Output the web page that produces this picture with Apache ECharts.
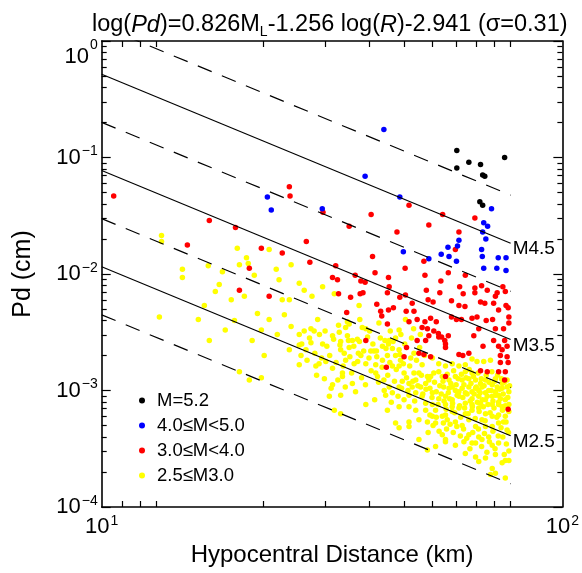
<!DOCTYPE html>
<html><head><meta charset="utf-8">
<script src="https://cdn.jsdelivr.net/npm/echarts@6/dist/echarts.min.js"></script>
<style>html,body{margin:0;padding:0;background:#fff}#c{width:582px;height:573px}</style>
</head><body><div id="c"></div>
<script>
// Legend categories and colours
const categories = ['M=5.2', '4.0≤M<5.0', '3.0≤M<4.0', '2.5≤M3.0'];
const catColors = ['#000000', '#0000ff', '#ff0000', '#ffff00'];

// Points as [log10 R (km), log10 Pd (cm)]
const blackPts = [[1.848,-0.94],[1.882,-1.04],[1.848,-1.09],[1.915,-1.06],[1.921,-1.15],[1.927,-1.16],[1.983,-1.00],[1.913,-1.38],[1.921,-1.41]];

const bluePts = [[1.642,-0.76],[1.589,-1.16],[1.313,-1.34],[1.324,-1.45],[1.468,-1.44],[1.687,-1.34],
[1.946,-1.44],[1.924,-1.56],[1.935,-1.59],[1.921,-1.64],[1.930,-1.70],[1.854,-1.71],
[1.697,-1.81],[1.769,-1.87],[1.804,-1.83],[1.823,-1.77],[1.826,-1.85],[1.847,-1.89],[1.850,-1.76],
[1.918,-1.79],[1.920,-1.85],[1.924,-1.95],[1.965,-1.86],[1.987,-1.86],[1.961,-1.95],[1.987,-1.97]];

const redPts = [[0.879,-1.33],[1.087,-1.75],[1.149,-1.54],[1.223,-1.60],[1.375,-1.25],[1.377,-1.33],
[1.296,-1.78],[1.355,-1.82],[1.423,-1.72],[1.318,-2.19],[1.470,-1.47],[1.544,-1.59],[1.606,-1.49],
[1.679,-1.64],[1.713,-1.41],[1.769,-1.58],[1.808,-1.49],[1.854,-1.64],[1.899,-1.52],[1.262,-1.95],[1.234,-2.14],
[1.610,-1.85],[1.433,-1.90],[1.506,-1.93],[1.702,-1.95],[1.755,-1.89],[1.844,-1.79],[1.617,-1.99],
[1.497,-2.03],[1.511,-2.05],[1.561,-2.01],[1.577,-2.06],[1.589,-2.07],[1.655,-2.03],[1.758,-2.01],
[1.824,-1.99],[1.872,-2.01],[1.803,-2.06],[1.657,-2.11],[1.583,-2.16],[1.575,-2.17],[1.514,-2.17],
[1.548,-2.20],[1.652,-2.16],[1.687,-2.20],[1.703,-2.18],[1.762,-2.14],[1.800,-2.16],[1.856,-2.11],
[1.866,-2.17],[1.899,-2.12],[1.918,-2.10],[1.934,-2.14],[1.899,-2.16],[1.978,-2.11],[1.962,-2.16],
[1.985,-2.15],[1.767,-2.22],[1.781,-2.24],[1.722,-2.25],[1.833,-2.23],[1.854,-2.27],[1.871,-2.28],
[1.915,-2.24],[1.927,-2.25],[1.952,-2.25],[1.957,-2.19],[1.987,-2.27],[1.993,-2.29],[1.622,-2.26],
[1.537,-2.33],[1.633,-2.32],[1.636,-2.36],[1.655,-2.31],[1.669,-2.29],[1.705,-2.32],[1.727,-2.32],
[1.652,-2.43],[1.713,-2.41],[1.736,-2.39],[1.758,-2.41],[1.774,-2.38],[1.790,-2.41],[1.765,-2.47],
[1.750,-2.46],[1.783,-2.49],[1.796,-2.51],[1.805,-2.54],[1.833,-2.37],[1.847,-2.39],[1.861,-2.39],
[1.891,-2.38],[1.905,-2.37],[1.910,-2.47],[1.931,-2.40],[1.949,-2.39],[1.966,-2.31],[1.995,-2.37],
[1.995,-2.42],[1.957,-2.47],[1.980,-2.47],[1.591,-2.57],[1.736,-2.57],[1.760,-2.57],[1.769,-2.53],
[1.797,-2.54],[1.824,-2.53],[1.814,-2.57],[1.896,-2.53],[1.922,-2.62],[1.952,-2.57],[1.966,-2.62],
[1.983,-2.57],[1.990,-2.62],[1.976,-2.65],[1.706,-2.63],[1.741,-2.68],[1.699,-2.71],[1.755,-2.69],
[1.774,-2.71],[1.816,-2.60],[1.816,-2.63],[1.854,-2.69],[1.865,-2.70],[1.882,-2.68],[1.971,-2.70],
[1.990,-2.71],[1.993,-2.76],[1.971,-2.76],[1.966,-2.84],[1.985,-2.84],[1.983,-2.91],[1.915,-2.83],
[1.934,-2.84],[1.649,-2.80],[1.816,-2.88],[1.993,-3.16]];

const yellowPts = [[1.014,-1.67],[1.014,-1.72],[1.073,-1.96],[1.073,-2.03],[1.008,-2.37],[1.118,-2.39],
[1.228,-1.78],[1.254,-1.86],[1.259,-1.91],[1.186,-1.98],[1.177,-2.09],[1.276,-2.01],[1.338,-1.96],
[1.211,-2.22],[1.248,-2.19],[1.285,-2.34],[1.220,-2.40],[1.296,-2.48],[1.361,-2.35],[1.341,-2.52],
[1.375,-2.22],[1.304,-2.70],[1.375,-2.65],[1.234,-2.84],[1.296,-2.89],[1.149,-2.57],[1.318,-1.79],
[1.346,-2.05],[1.380,-1.92],[1.146,-1.93],[1.234,-1.92],[1.166,-2.15],[1.135,-2.27],[1.194,-2.48],
[1.270,-2.57],[1.380,-2.45],[1.318,-2.39],[1.355,-2.22],[1.403,-2.61],[1.262,-2.91],
[1.417,-2.14],[1.469,-2.11],[1.439,-2.19],[1.502,-2.17],[1.572,-2.27],[1.403,-2.08],
[1.455,-2.39],[1.403,-2.52],[1.417,-2.49],[1.436,-2.47],[1.445,-2.49],[1.476,-2.49],[1.497,-2.53],
[1.516,-2.50],[1.514,-2.44],[1.534,-2.46],[1.539,-2.41],[1.544,-2.43],[1.574,-2.39],[1.581,-2.46],
[1.591,-2.47],[1.602,-2.49],[1.628,-2.42],[1.645,-2.57],[1.657,-2.57],[1.675,-2.55],[1.520,-2.58],
[1.542,-2.57],[1.553,-2.57],[1.567,-2.56],[1.469,-2.60],[1.436,-2.59],[1.408,-2.70],[1.422,-2.65],
[1.703,-2.39],[1.685,-2.48],
[1.520,-2.65],[1.530,-2.68],[1.544,-2.63],[1.570,-2.68],[1.605,-2.66],[1.614,-2.66],[1.621,-2.66],
[1.638,-2.62],[1.655,-2.60],[1.666,-2.64],[1.685,-2.65],[1.675,-2.70],[1.689,-2.74],[1.652,-2.70],
[1.638,-2.74],[1.619,-2.78],[1.591,-2.77],[1.577,-2.70],[1.558,-2.77],[1.534,-2.74],[1.525,-2.85],
[1.497,-2.81],[1.459,-2.77],[1.450,-2.79],[1.478,-2.75],[1.403,-2.78],[1.718,-2.72],[1.727,-2.68],
[1.685,-2.79],[1.666,-2.79],[1.699,-2.85],[1.727,-2.85],[1.741,-2.85],[1.750,-2.78],[1.779,-2.72],
[1.797,-2.77],[1.816,-2.79],[1.835,-2.77],[1.854,-2.79],[1.872,-2.78],[1.891,-2.73],[1.905,-2.75],
[1.924,-2.75],[1.943,-2.74],[1.872,-2.84],[1.891,-2.85],[1.929,-2.91],[1.957,-2.90],[1.976,-2.94],
[1.990,-2.97],
[1.553,-2.94],[1.525,-2.88],[1.497,-2.95],[1.488,-3.05],[1.520,-3.04],[1.591,-3.12],[1.619,-2.85],
[1.624,-2.88],[1.642,-2.91],[1.657,-2.97],[1.647,-3.04],[1.666,-3.02],[1.685,-2.97],[1.694,-2.92],
[1.713,-2.94],[1.722,-2.97],[1.732,-2.91],[1.746,-2.97],[1.760,-2.94],[1.774,-2.88],[1.783,-2.85],
[1.797,-2.84],[1.811,-2.97],[1.826,-2.98],[1.844,-3.00],[1.863,-2.98],[1.882,-2.97],[1.901,-2.98],
[1.919,-2.97],[1.938,-3.00],[1.957,-3.01],[1.976,-2.98],[1.995,-3.01],[1.779,-3.02],[1.797,-3.07],
[1.816,-3.05],[1.835,-3.08],[1.854,-3.05],[1.872,-3.11],[1.891,-3.07],[1.910,-3.05],[1.929,-3.08],
[1.948,-3.05],[1.966,-3.10],[1.985,-3.08],[1.713,-3.04],[1.732,-3.02],[1.750,-3.05],[1.760,-3.11],
[1.779,-3.12],[1.699,-3.08],[1.685,-3.14],
[1.769,-2.91],[1.807,-2.88],[1.826,-2.91],[1.844,-2.88],[1.863,-2.91],[1.882,-2.90],[1.901,-2.91],
[1.915,-2.94],[1.948,-2.95],[1.962,-2.97],[1.835,-2.97],[1.854,-3.01],[1.872,-3.02],[1.891,-3.01],
[1.910,-3.00],[1.929,-3.02],[1.966,-3.04],[1.816,-3.12],[1.835,-3.14],[1.891,-3.12],[1.915,-3.11],
[1.948,-3.12],[1.976,-3.14],
[1.652,-3.17],[1.713,-3.14],[1.732,-3.17],[1.788,-3.17],[1.816,-3.21],[1.835,-3.18],[1.854,-3.15],
[1.872,-3.20],[1.891,-3.17],[1.910,-3.15],[1.929,-3.20],[1.948,-3.22],[1.966,-3.21],[1.985,-3.22],
[1.995,-3.12],[1.675,-3.28],[1.685,-3.32],[1.713,-3.27],[1.713,-3.31],[1.741,-3.25],[1.765,-3.27],
[1.779,-3.22],[1.788,-3.28],[1.821,-3.25],[1.844,-3.27],[1.863,-3.30],[1.882,-3.25],[1.901,-3.31],
[1.929,-3.31],[1.948,-3.31],[1.966,-3.28],[1.990,-3.34],[1.978,-3.40],[1.938,-3.40],[1.910,-3.40],
[1.882,-3.38],[1.807,-3.38],[1.816,-3.42],[1.760,-3.17],[1.807,-3.22],[1.919,-3.25],[1.980,-3.27],
[1.741,-3.42],[1.765,-3.51],[1.788,-3.48],[1.816,-3.44],[1.844,-3.47],[1.868,-3.44],[1.891,-3.45],
[1.919,-3.42],[1.948,-3.47],[1.966,-3.45],[1.995,-3.52],[1.872,-3.54],[1.901,-3.57],[1.929,-3.58],
[1.957,-3.55],[1.985,-3.60],[1.910,-3.61],[1.948,-3.67],[1.976,-3.62],[1.995,-3.60],[1.957,-3.71],
[1.985,-3.75],[1.943,-3.72],[1.502,-3.17],[1.520,-3.20],
[1.765,-2.88],[1.772,-2.98],[1.778,-3.06],[1.785,-2.93],[1.790,-3.01],[1.795,-3.12],[1.800,-2.96],
[1.804,-3.03],[1.809,-2.92],[1.812,-3.09],[1.818,-3.16],[1.821,-2.86],[1.824,-3.02],[1.828,-3.07],
[1.831,-2.94],[1.836,-3.11],[1.839,-2.83],[1.842,-3.19],[1.846,-2.95],[1.849,-3.04],[1.852,-2.90],
[1.856,-3.13],[1.859,-3.23],[1.861,-2.86],[1.865,-3.06],[1.868,-2.95],[1.870,-3.15],[1.874,-2.89],
[1.877,-3.03],[1.880,-3.20],[1.883,-2.82],[1.886,-3.09],[1.888,-2.94],[1.892,-3.14],[1.895,-2.88],
[1.897,-3.03],[1.900,-3.24],[1.903,-2.97],[1.906,-3.10],[1.908,-2.85],[1.911,-3.18],[1.914,-3.02],
[1.917,-2.90],[1.920,-3.08],[1.923,-3.14],[1.925,-2.96],[1.928,-3.26],[1.931,-2.87],[1.934,-3.05],
[1.936,-3.12],[1.939,-2.93],[1.942,-3.19],[1.945,-3.00],[1.947,-2.84],[1.950,-3.09],[1.953,-3.15],
[1.955,-2.92],[1.958,-3.04],[1.961,-3.23],[1.963,-2.87],[1.966,-3.12],[1.969,-2.99],[1.971,-3.07],
[1.974,-2.90],[1.977,-3.17],[1.979,-3.03],[1.982,-2.93],[1.985,-3.13],[1.987,-3.27],[1.990,-2.91],
[1.992,-3.06],[1.995,-3.18],[1.997,-2.96],[1.994,-3.36],[1.988,-3.46],[1.982,-3.55],[1.973,-3.32],
[1.965,-3.39],[1.956,-3.50],[1.950,-3.35],[1.940,-3.44],[1.933,-3.53],[1.926,-3.37],[1.918,-3.48],
[1.909,-3.33],[1.901,-3.45],[1.893,-3.36],[1.885,-3.50],[1.876,-3.41],[1.867,-3.33],[1.858,-3.39],
[1.848,-3.31],[1.838,-3.36],[1.829,-3.29],[1.819,-3.33],[1.810,-3.28],[1.798,-3.35],[1.790,-3.23],
[1.781,-3.30],[1.772,-3.21],[1.767,-3.36],
[1.410,-2.60],[1.425,-2.74],[1.432,-2.55],[1.447,-2.68],[1.452,-2.87],[1.460,-2.52],[1.466,-2.72],
[1.474,-2.90],[1.481,-2.62],[1.489,-2.70],[1.493,-2.98],[1.500,-2.56],[1.507,-2.76],[1.512,-2.91],
[1.518,-2.61],[1.527,-2.79],[1.533,-2.97],[1.539,-2.53],[1.546,-2.71],[1.551,-2.85],[1.557,-2.62],
[1.562,-3.01],[1.568,-2.75],[1.573,-2.58],[1.579,-2.89],[1.585,-2.66],[1.590,-2.95],[1.596,-2.54],
[1.600,-2.72],[1.606,-2.83],[1.611,-2.60],[1.616,-3.08],[1.622,-2.71],[1.627,-2.93],[1.632,-2.55],
[1.637,-2.80],[1.643,-3.00],[1.648,-2.64],[1.653,-2.87],[1.659,-2.76],[1.663,-3.10],[1.668,-2.58],
[1.672,-2.92],[1.677,-2.82],[1.682,-3.05],[1.687,-2.69],[1.692,-2.98],[1.697,-2.77],[1.701,-2.60],
[1.706,-2.89],[1.710,-3.00],[1.715,-2.79],[1.720,-2.55],[1.724,-2.92],[1.729,-3.09],[1.734,-2.74],
[1.738,-2.96],[1.743,-2.63],[1.748,-2.87],[1.752,-3.03],[1.757,-2.70],[1.761,-2.99],[1.745,-2.52],
[1.726,-2.47],[1.690,-2.52],[1.660,-2.49]];

// Regression from the title: log(Pd) = a*M + b*log(R) + c
const coefA = 0.826, coefB = -1.256, coefC = -2.941;
const solidMags = [4.5, 3.5, 2.5];
const dashedMags = [5.0, 4.0, 3.0, 2.0];
const lineR = [7, 100];

// Axis extents and tick labels
const xMin = 7, xMax = 140, yMin = 1e-4, yMax = 1;
const xTickValues = [8, 9, 10, 20, 30, 40, 50, 60, 70, 80, 90, 100];
const xLabelValues = [7, 140];
const xLabelExps = ['1', '2'];
const yLabelValues = [1e-4, 1e-3, 1e-2, 1e-1, 1];
const yLabelExps = ['−4', '−3', '−2', '−1', '0'];
const minorMantissas = [2, 3, 4, 5, 6, 7, 8, 9];
const minorDecades = [-4, -3, -2, -1];

const FONT = 'Liberation Sans, Arial, Helvetica, sans-serif';
const yMinor = [];
minorDecades.forEach(e => minorMantissas.forEach(m => yMinor.push(m * Math.pow(10, e))));

const toXY = pts => pts.map(p => [Math.pow(10, p[0]), Math.pow(10, p[1])]);
const pd = (M, R) => Math.pow(10, coefA * M + coefB * Math.log10(R) + coefC);

const richTick = {
  b: { fontSize: 22, fontFamily: FONT, color: '#000' },
  s: { fontSize: 14, fontFamily: FONT, color: '#000', verticalAlign: 'top', padding: [0, 0, 12, 1] },
  bt: { fontSize: 22, fontFamily: FONT, color: '#000', padding: [32, 0, 0, 0] },
  st: { fontSize: 14, fontFamily: FONT, color: '#000', padding: [20, 0, 12, 1] }
};

const lineSeries = [];
solidMags.forEach(M => lineSeries.push({
  type: 'line', xAxisIndex: 0, yAxisIndex: 0, z: 5, symbol: 'none', silent: true,
  data: lineR.map(R => [R, pd(M, R)]),
  lineStyle: { color: '#000', width: 1.2 },
  endLabel: { show: true, formatter: 'M' + M.toFixed(1), color: '#000', fontSize: 19, fontFamily: FONT, distance: 2, offset: [0, 6] }
}));
dashedMags.forEach(M => lineSeries.push({
  type: 'line', xAxisIndex: 0, yAxisIndex: 0, z: 5, symbol: 'none', silent: true,
  data: lineR.map(R => [R, pd(M, R)]),
  lineStyle: { color: '#000', width: 1.2, type: [15, 11] }
}));

const ptSets = [blackPts, bluePts, redPts, yellowPts];
const drawOrder = [3, 2, 1, 0];
const scatterSeries = drawOrder.map((i, k) => ({
  name: categories[i], type: 'scatter', xAxisIndex: 0, yAxisIndex: 0, z: 2 + k * 0.1,
  symbol: 'circle', symbolSize: 5.5, data: toXY(ptSets[i]),
  itemStyle: { color: catColors[i], opacity: 1 }
}));

const baseX = { type: 'log', logBase: 10, min: xMin, max: xMax, splitLine: { show: false } };
const baseY = { type: 'log', logBase: 10, min: yMin, max: yMax, splitLine: { show: false } };
const axLine = { show: true, onZero: false, lineStyle: { color: '#000', width: 1.6 } };

const chart = echarts.init(document.getElementById('c'), null, { renderer: 'canvas' });
chart.setOption({
  animation: false,
  backgroundColor: '#fff',
  title: {
    left: 87, top: 6,
    text: '{n|log(}{i|Pd}{n|)=0.826M}{sub|L}{n|-1.256 log(}{i|R}{n|)-2.941 (σ=0.31)}',
    textStyle: {
      fontWeight: 'normal',
      rich: {
        n: { fontSize: 23.5, fontFamily: FONT, color: '#000', fontWeight: 'normal', lineHeight: 28 },
        i: { fontSize: 23.5, fontFamily: FONT, color: '#000', fontWeight: 'normal', fontStyle: 'italic', lineHeight: 28 },
        sub: { fontSize: 14, fontFamily: FONT, color: '#000', fontWeight: 'normal', verticalAlign: 'bottom', lineHeight: 14 }
      }
    }
  },
  legend: {
    orient: 'vertical', left: 134, top: 386, itemGap: 6,
    itemWidth: 6, itemHeight: 6, icon: 'circle',
    data: categories,
    textStyle: { fontSize: 18.5, fontFamily: FONT, color: '#000', padding: [0, 0, 0, 7] }
  },
  grid: { left: 101.7, right: 18.7, top: 41, bottom: 66, containLabel: false },
  xAxis: [
    Object.assign({}, baseX, {
      position: 'bottom',
      name: 'Hypocentral Distance (km)', nameLocation: 'middle', nameGap: 34,
      nameTextStyle: { fontSize: 24, fontFamily: FONT, color: '#000' },
      axisLine: axLine,
      axisTick: { show: true, inside: true, length: 6, customValues: xTickValues, lineStyle: { color: '#000', width: 1.2 } },
      axisLabel: { show: true, customValues: xLabelValues, margin: 7,
        formatter: v => '{b|10}{s|' + xLabelExps[xLabelValues.indexOf(v)] + '}', rich: richTick,
        showMinLabel: true, showMaxLabel: true }
    }),
    Object.assign({}, baseX, {
      position: 'top', axisLine: axLine,
      axisTick: { show: true, inside: true, length: 6, customValues: xTickValues, lineStyle: { color: '#000', width: 1.2 } },
      axisLabel: { show: false }
    })
  ],
  yAxis: [
    Object.assign({}, baseY, {
      position: 'left',
      name: 'Pd (cm)', nameLocation: 'middle', nameGap: 66,
      nameTextStyle: { fontSize: 25, fontFamily: FONT, color: '#000' },
      axisLine: axLine,
      axisTick: { show: true, inside: true, length: 9, customValues: yLabelValues, lineStyle: { color: '#000', width: 1.2 } },
      axisLabel: { show: true, customValues: yLabelValues, margin: 4,
        formatter: v => {
          const e = yLabelExps[yLabelValues.findIndex(t => Math.abs(Math.log10(t) - Math.log10(v)) < 1e-6)];
          return v > 0.5 ? '{bt|10}{st|' + e + '}' : '{b|10}{s|' + e + '}';
        }, rich: richTick }
    }),
    Object.assign({}, baseY, {
      position: 'right', axisLine: axLine,
      axisTick: { show: true, inside: true, length: 9, customValues: yLabelValues, lineStyle: { color: '#000', width: 1.2 } },
      axisLabel: { show: false }
    }),
    Object.assign({}, baseY, {
      position: 'left', axisLine: { show: false },
      axisTick: { show: true, inside: true, length: 5, customValues: yMinor, lineStyle: { color: '#000', width: 1.2 } },
      axisLabel: { show: false }
    }),
    Object.assign({}, baseY, {
      position: 'right', axisLine: { show: false },
      axisTick: { show: true, inside: true, length: 5, customValues: yMinor, lineStyle: { color: '#000', width: 1.2 } },
      axisLabel: { show: false }
    })
  ],
  series: scatterSeries.concat(lineSeries)
});
</script>
</body></html>
